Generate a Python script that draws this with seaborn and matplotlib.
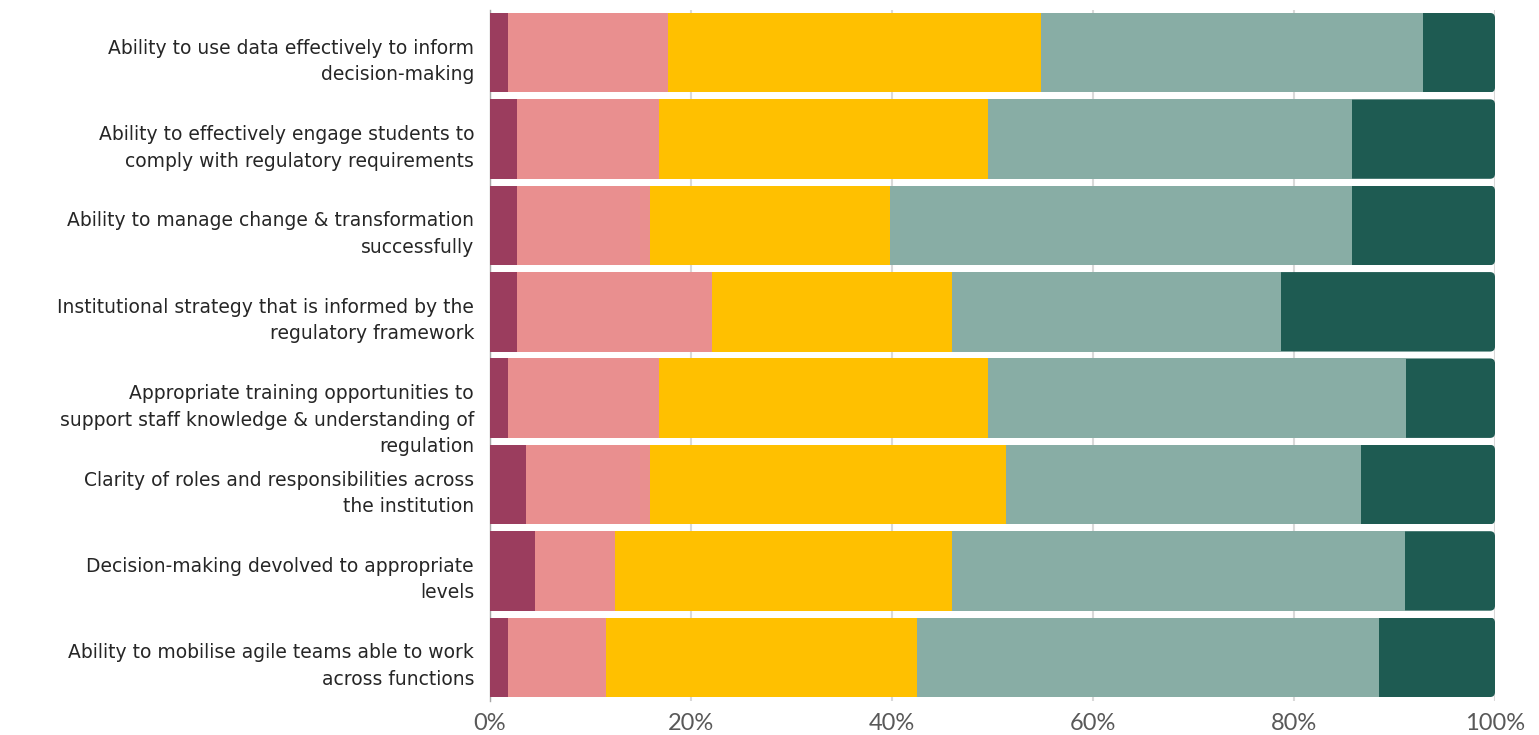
import numpy as np
import pandas as pd
import matplotlib
matplotlib.use("Agg")
import matplotlib.pyplot as plt
import matplotlib.transforms as mtransforms
from matplotlib.patches import FancyBboxPatch
import seaborn as sns

# Survey items (top to bottom)
items = [
    "Ability to use data effectively to inform\ndecision-making",
    "Ability to effectively engage students to\ncomply with regulatory requirements",
    "Ability to manage change & transformation\nsuccessfully",
    "Institutional strategy that is informed by the\nregulatory framework",
    "Appropriate training opportunities to\nsupport staff knowledge & understanding of\nregulation",
    "Clarity of roles and responsibilities across\nthe institution",
    "Decision-making devolved to appropriate\nlevels",
    "Ability to mobilise agile teams able to work\nacross functions",
]

# Share of responses (%) for each rating level, lowest to highest
level1 = [1.8, 2.7, 2.7, 2.7, 1.8, 3.6, 4.5, 1.8]
level2 = [15.9, 14.1, 13.2, 19.4, 15.0, 12.3, 7.9, 9.7]
level3 = [37.1, 32.8, 23.9, 23.9, 32.8, 35.4, 33.6, 31.0]
level4 = [38.0, 36.2, 46.0, 32.7, 41.5, 35.4, 45.0, 46.0]
level5 = [7.2, 14.2, 14.2, 21.3, 8.9, 13.3, 9.0, 11.5]

colors = ["#9B3D5E", "#E98F8F", "#FFC000", "#88ADA5", "#1E5B52"]
x_ticks = [0, 20, 40, 60, 80, 100]

levels = np.array([level1, level2, level3, level4, level5])
cumulative = np.cumsum(levels, axis=0)

sns.set_theme(style="white")
plt.rcParams["font.family"] = ["DejaVu Sans"]

fig = plt.figure(figsize=(15.39, 7.35), dpi=100)
ax = fig.add_axes([490 / 1539, 1 - 700.5 / 735, (1495 - 490) / 1539, (700.5 - 9.5) / 735])

bar_width = 0.92
# Stack by overdrawing cumulative totals, outermost first
layer_patches = []
for k in range(4, -1, -1):
    df = pd.DataFrame({"item": items, "value": cumulative[k]})
    before = len(ax.patches)
    sns.barplot(data=df, x="value", y="item", color=colors[k], saturation=1,
                width=bar_width, ax=ax, orient="h", zorder=2, linewidth=0)
    layer_patches.append(ax.patches[before:])

# Round the right-hand end of each full bar
px_x = (1495 - 490) / 100.0
px_y = (700.5 - 9.5) / len(items)
radius_px = 5.0
r = radius_px / px_x
for p in layer_patches[0]:
    x0, y0 = p.get_x(), p.get_y()
    w, h = p.get_width(), p.get_height()
    clip = FancyBboxPatch((x0 - 5, y0), w + 5, h,
                          boxstyle=f"round,pad=0,rounding_size={r}",
                          mutation_aspect=(radius_px / px_y) / r,
                          transform=ax.transData, facecolor="none", edgecolor="none")
    ax.add_patch(clip)
    clip.set_visible(False)
    p.set_clip_path(clip)

ax.set_xlim(0, 100)
ax.set_ylim(len(items) - 0.5, -0.5)
ax.set_xticks(x_ticks)
ax.set_xticklabels([f"{t}%" for t in x_ticks])
ax.set_xlabel("")
ax.set_ylabel("")

ax.grid(axis="x", color="#D9D9D9", linewidth=1.5, zorder=0)
ax.grid(axis="y", visible=False)
ax.set_axisbelow(True)
for side in ["top", "right", "bottom"]:
    ax.spines[side].set_visible(False)
ax.spines["left"].set_color("#A6A6A6")
ax.spines["left"].set_linewidth(1.0)
ax.spines["left"].set_zorder(1)

ax.tick_params(axis="x", length=0, pad=9, labelsize=17, labelcolor="#595959")
for lab in ax.get_xticklabels():
    lab.set_family(["Lato", "DejaVu Sans"])

ax.tick_params(axis="y", length=0, pad=11.5, labelsize=13.5, labelcolor="#262626")
shift = mtransforms.ScaledTranslation(0, 14 / 100, fig.dpi_scale_trans)
for lab in ax.get_yticklabels():
    lab.set_verticalalignment("top")
    lab.set_horizontalalignment("right")
    lab.set_multialignment("right")
    lab.set_linespacing(1.5)
    lab.set_transform(lab.get_transform() + shift)

fig.savefig("out.png", dpi=100, facecolor="white")
